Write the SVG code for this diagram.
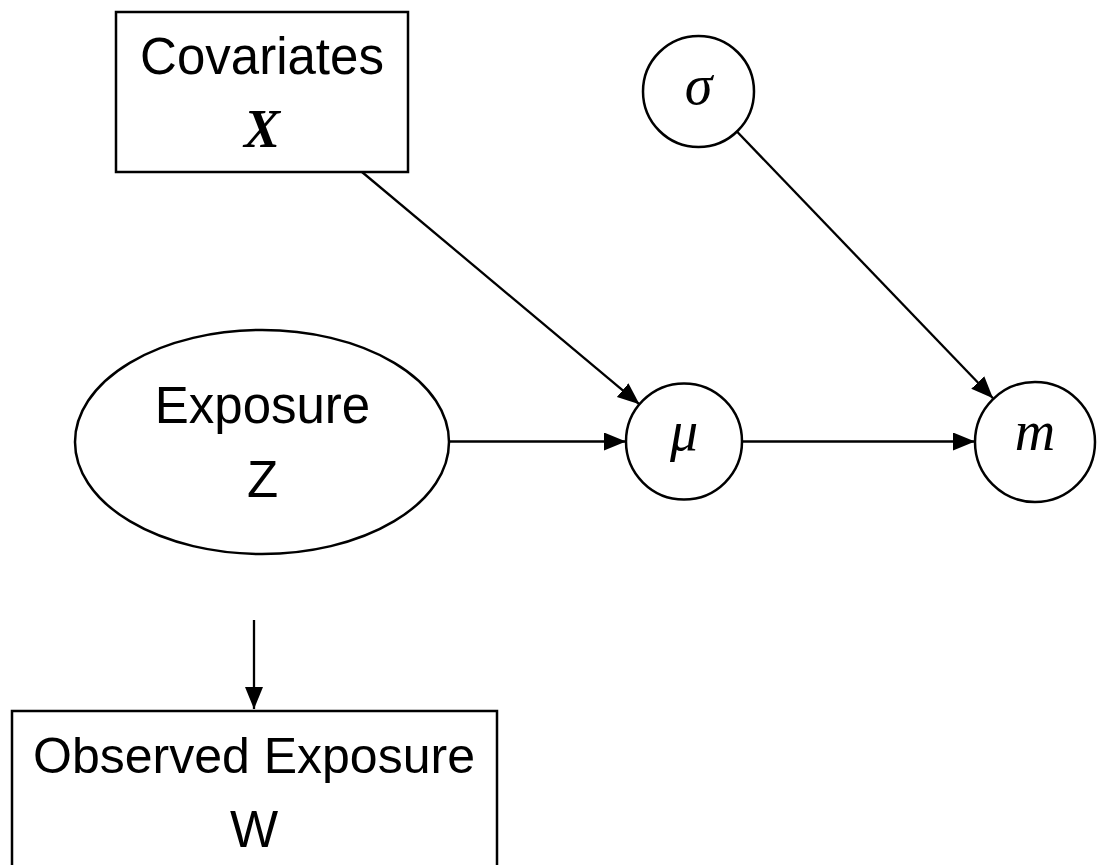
<svg xmlns="http://www.w3.org/2000/svg" width="1104" height="865" viewBox="0 0 1104 865">
<style>
.shape{fill:#fff;stroke:#000;stroke-width:2.5}
.lbl{font-family:"Liberation Sans",Arial,sans-serif;font-size:51px;fill:#000;text-anchor:middle}
.math{font-family:"Liberation Serif","Times New Roman",serif;font-style:italic;font-size:56px;fill:#000;text-anchor:middle}
.bx{font-family:"Liberation Serif","Times New Roman",serif;font-style:italic;font-weight:bold;font-size:54px;fill:#000;text-anchor:middle}
.edge{fill:none;stroke:#000;stroke-width:2.3}
</style>
<defs>
<marker id="arr" markerUnits="userSpaceOnUse" markerWidth="24" markerHeight="20" refX="22" refY="9" orient="auto">
<path d="M0,0 L22,9 L0,18 z" fill="#000"/>
</marker>
</defs>
<rect width="1104" height="865" fill="#fff"/>
<g id="edges">
<line class="edge" x1="362" y1="172" x2="639.5" y2="404.3" marker-end="url(#arr)"/>
<line class="edge" x1="736.9" y1="131.5" x2="993" y2="398.3" marker-end="url(#arr)"/>
<line class="edge" x1="449" y1="441.5" x2="626" y2="441.5" marker-end="url(#arr)"/>
<line class="edge" x1="742" y1="441.5" x2="975" y2="441.5" marker-end="url(#arr)"/>
<line class="edge" x1="254" y1="620" x2="254" y2="709" marker-end="url(#arr)"/>
</g>
<g id="covariates">
<rect class="shape" x="116" y="12" width="292" height="160"/>
<text class="lbl" x="262" y="74">Covariates</text>
<text class="bx" x="262" y="147">X</text>
</g>
<g id="sigma">
<circle class="shape" cx="698.5" cy="91.5" r="55.5"/>
<text class="math" x="698.5" y="104">σ</text>
</g>
<g id="exposure">
<ellipse class="shape" cx="262" cy="442" rx="187" ry="112"/>
<text class="lbl" x="262.5" y="423">Exposure</text>
<text class="lbl" x="262.5" y="497">Z</text>
</g>
<g id="mu">
<circle class="shape" cx="684" cy="441.5" r="58"/>
<text class="math" x="684" y="450">μ</text>
</g>
<g id="m">
<circle class="shape" cx="1035" cy="442" r="60"/>
<text class="math" x="1035" y="450">m</text>
</g>
<g id="observed">
<rect class="shape" x="12" y="711" width="485" height="170"/>
<text class="lbl" x="254" y="773" style="font-size:50px">Observed Exposure</text>
<text class="lbl" x="254" y="847">W</text>
</g>
</svg>
